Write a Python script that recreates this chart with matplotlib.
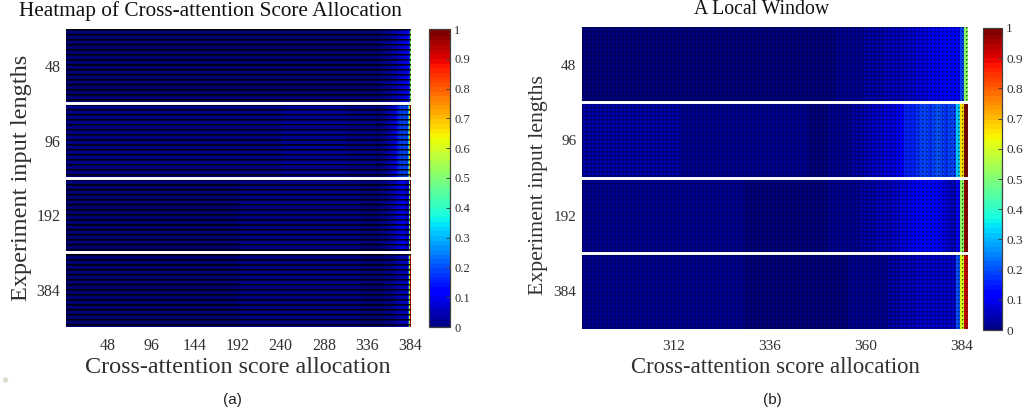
import numpy as np
import matplotlib
matplotlib.use("Agg")
import matplotlib.pyplot as plt
from matplotlib.patches import Ellipse

plt.rcParams['font.family'] = ['Liberation Serif', 'DejaVu Serif']

input_lengths = ['48', '96', '192', '384']
rows_per_group = 18

# last 96 positions (289..384) per experiment input length
win_48 = [0.01,0.01,0.01,0.01,0.01,0.01,0.01,0.01,0.01,0.01,0.01,0.01,0.01,0.01,0.01,0.01,
          0.01,0.01,0.01,0.01,0.01,0.01,0.01,0.01,0.01,0.01,0.01,0.01,0.01,0.01,0.01,0.01,
          0.01,0.01,0.01,0.01,0.01,0.01,0.01,0.01,0.012,0.012,0.012,0.012,0.012,0.012,0.012,0.012,
          0.012,0.012,0.012,0.012,0.012,0.012,0.012,0.015,0.015,0.015,0.015,0.015,0.015,0.015,0.015,0.02,
          0.02,0.02,0.025,0.025,0.03,0.03,0.035,0.035,0.04,0.04,0.045,0.05,0.05,0.055,0.06,0.06,
          0.065,0.07,0.075,0.08,0.085,0.09,0.095,0.10,0.10,0.11,0.11,0.115,0.12,0.12,0.20,0.53]
win_96 = [0.04,0.04,0.04,0.04,0.04,0.04,0.04,0.04,0.04,0.04,0.04,0.04,0.04,0.04,0.04,0.04,
          0.035,0.035,0.035,0.035,0.035,0.035,0.035,0.035,0.03,0.03,0.03,0.03,0.03,0.03,0.03,0.03,
          0.03,0.03,0.03,0.03,0.03,0.03,0.03,0.03,0.025,0.025,0.025,0.025,0.025,0.025,0.025,0.025,
          0.02,0.02,0.02,0.02,0.02,0.02,0.02,0.02,0.015,0.015,0.015,0.015,0.015,0.02,0.02,0.02,
          0.02,0.025,0.03,0.035,0.04,0.045,0.05,0.06,0.065,0.07,0.075,0.08,0.08,0.09,0.10,0.12,
          0.16,0.17,0.17,0.18,0.20,0.19,0.18,0.20,0.21,0.20,0.18,0.19,0.20,0.34,0.66,0.99]
win_192 = [0.02,0.02,0.02,0.02,0.02,0.02,0.02,0.02,0.02,0.02,0.02,0.02,0.02,0.02,0.02,0.02,
           0.02,0.02,0.02,0.02,0.02,0.02,0.02,0.02,0.02,0.02,0.02,0.02,0.02,0.02,0.02,0.02,
           0.02,0.02,0.02,0.02,0.02,0.02,0.02,0.02,0.015,0.015,0.015,0.015,0.015,0.015,0.015,0.015,
           0.015,0.015,0.015,0.015,0.015,0.015,0.015,0.015,0.015,0.015,0.015,0.015,0.015,0.02,0.02,0.02,
           0.02,0.02,0.025,0.03,0.03,0.035,0.04,0.04,0.045,0.05,0.05,0.055,0.06,0.065,0.07,0.08,
           0.09,0.10,0.10,0.11,0.12,0.13,0.14,0.14,0.12,0.10,0.08,0.07,0.06,0.11,0.52,0.97]
win_384 = [0.02,0.02,0.02,0.02,0.02,0.02,0.02,0.02,0.02,0.02,0.02,0.02,0.02,0.02,0.02,0.02,
           0.02,0.02,0.02,0.02,0.02,0.02,0.02,0.02,0.02,0.02,0.02,0.02,0.02,0.02,0.02,0.02,
           0.02,0.02,0.02,0.02,0.02,0.02,0.02,0.02,0.015,0.015,0.015,0.015,0.015,0.015,0.015,0.015,
           0.015,0.015,0.015,0.015,0.015,0.015,0.015,0.015,0.015,0.015,0.015,0.015,0.015,0.015,0.015,0.015,
           0.015,0.015,0.02,0.02,0.02,0.02,0.025,0.025,0.025,0.03,0.03,0.03,0.035,0.04,0.04,0.05,
           0.055,0.06,0.06,0.065,0.07,0.07,0.075,0.075,0.075,0.07,0.07,0.07,0.075,0.21,0.62,0.93]
windows = [win_48, win_96, win_192, win_384]

# positions 1..288, coarse levels every 24 positions
base_48 = [0.01,0.01,0.01,0.01,0.01,0.01,0.01,0.01,0.01,0.01,0.01,0.01]
base_96 = [0.02,0.02,0.02,0.02,0.02,0.02,0.02,0.025,0.03,0.03,0.035,0.04]
base_192 = [0.015,0.015,0.015,0.015,0.015,0.015,0.015,0.015,0.02,0.02,0.02,0.02]
base_384 = [0.015,0.015,0.015,0.015,0.015,0.015,0.015,0.015,0.02,0.02,0.02,0.02]
bases = [base_48, base_96, base_192, base_384]

x_ticks_a = [48, 96, 144, 192, 240, 288, 336, 384]
x_ticks_b = [312, 336, 360, 384]
cbar_ticks = [0, 0.1, 0.2, 0.3, 0.4, 0.5, 0.6, 0.7, 0.8, 0.9, 1]
cbar_labels = ['0', '0.1', '0.2', '0.3', '0.4', '0.5', '0.6', '0.7', '0.8', '0.9', '1']

W, H = 1025, 419
fig = plt.figure(figsize=(W / 100, H / 100), dpi=100)
cmap = plt.get_cmap('jet', 64)
TXT = '#303030'
FRAME = '#404040'


def box(l, t, r, b):
    return [l / W, 1 - b / H, (r - l) / W, (b - t) / H]


def grid_overlay(ax, ax_box, line_alpha, soft_alpha, base_alpha, dots, step=4):
    """Soft, pixel-aligned cell grid: one overlay pixel per figure pixel."""
    w, h = ax_box[2] - ax_box[0], ax_box[3] - ax_box[1]
    alpha = np.full((h, w), base_alpha, dtype=float)
    if dots:
        alpha[np.ix_(np.arange(0, h, step), np.arange(0, w, step))] = line_alpha
        alpha[np.ix_(np.arange(1, h, step), np.arange(0, w, step))] = soft_alpha
        alpha[np.ix_(np.arange(0, h, step), np.arange(1, w, step))] = soft_alpha
    else:
        alpha[np.arange(0, h, step), :] = line_alpha
        alpha[np.arange(1, h, step), :] = soft_alpha
    rgba = np.zeros((h, w, 4))
    rgba[..., 3] = alpha
    xl, yl = ax.get_xlim(), ax.get_ylim()
    ax.imshow(rgba, extent=(xl[0], xl[1], yl[0], yl[1]), origin='upper', aspect='auto',
              interpolation='nearest', zorder=3)
    ax.set_xlim(xl)
    ax.set_ylim(yl)


def draw(ax_box, cb_box, data, xedges, xlim, xticks, title, title_spec, xlabel_spec,
         ylabel_spec, tick_size, cb_size, sub, sub_x):
    ax = fig.add_axes(box(*ax_box))
    yedges = np.arange(data.shape[0] + 1)
    mesh = ax.pcolormesh(xedges, yedges, data, cmap=cmap, vmin=0, vmax=1, linewidth=0)
    ax.set_xlim(*xlim)
    ax.set_ylim(data.shape[0], 0)
    ax.set_xticks(xticks)
    ax.set_xticklabels([str(t) for t in xticks])
    ax.set_yticks([rows_per_group * (i + 0.5) for i in range(4)])
    ax.set_yticklabels(input_lengths)
    ax.tick_params(length=0, labelsize=tick_size, labelcolor=TXT)
    ax.tick_params(axis='x', pad=8)
    ax.tick_params(axis='y', pad=4)
    for s in ax.spines.values():
        s.set_visible(False)
    for i in (1, 2, 3):
        ax.axhline(rows_per_group * i, color='white', lw=2.1, zorder=5)
    fig.text(title_spec[1] / W, 1 - title_spec[2] / H, title, ha='center', va='center',
             fontsize=title_spec[0], color='#111111')
    fig.text(xlabel_spec[1] / W, 1 - 367 / H, 'Cross-attention score allocation',
             ha='center', va='center', fontsize=xlabel_spec[0], color=TXT)
    fig.text(ylabel_spec[1] / W, 1 - ylabel_spec[2] / H, 'Experiment input lengths', rotation=90,
             ha='center', va='center', fontsize=ylabel_spec[0], color=TXT)
    fig.text(sub_x / W, 1 - 400 / H, sub, ha='center', va='center', fontsize=11,
             family='Liberation Sans', color='#222222')

    cax = fig.add_axes(box(*cb_box))
    cb = fig.colorbar(mesh, cax=cax)
    cb.solids.set_edgecolor('face')
    cb.set_ticks(cbar_ticks)
    cb.set_ticklabels(cbar_labels)
    cax.tick_params(axis='y', direction='in', length=3, width=0.7, labelsize=cb_size,
                    color=FRAME, labelcolor=TXT, pad=3)
    cb.outline.set_edgecolor(FRAME)
    cb.outline.set_linewidth(0.9)
    return ax


full = np.array([np.concatenate([np.repeat(bases[g], 24), windows[g]]) for g in range(4)])
data_a = np.repeat(full, rows_per_group, axis=0)
data_b = np.repeat(np.array(windows), rows_per_group, axis=0)

edges_a = np.arange(1, 386)
edges_b = np.arange(289.5, 386.5)
edges_b[0] = 289.0

box_a = (66, 29, 411, 327)
box_b = (582, 27, 968, 329)
ax_a = draw(box_a, (429, 29, 450, 327), data_a, edges_a, (1, 385), x_ticks_a,
            'Heatmap of Cross-attention Score Allocation', (15.3, 210, 11),
            (17.4, 238), (17.5, 22, 178), 11.5, 9, '(a)', 232)
ax_b = draw(box_b, (983, 28, 1002, 330), data_b, edges_b, (289.0, 385.5), x_ticks_b,
            'A Local Window', (14.2, 762, 9),
            (16.4, 775), (15.7, 539, 185), 11, 9.6, '(b)', 772)

grid_overlay(ax_a, box_a, 0.9, 0.55, 0.1, dots=False, step=5)
grid_overlay(ax_b, box_b, 0.7, 0.35, 0.05, dots=True, step=4)

fig.add_artist(Ellipse((5.5 / W, 1 - 380 / H), 4 / W, 4 / H, color='#dcdccc',
                       transform=fig.transFigure, clip_on=False))

fig.savefig('out.png', dpi=100)
